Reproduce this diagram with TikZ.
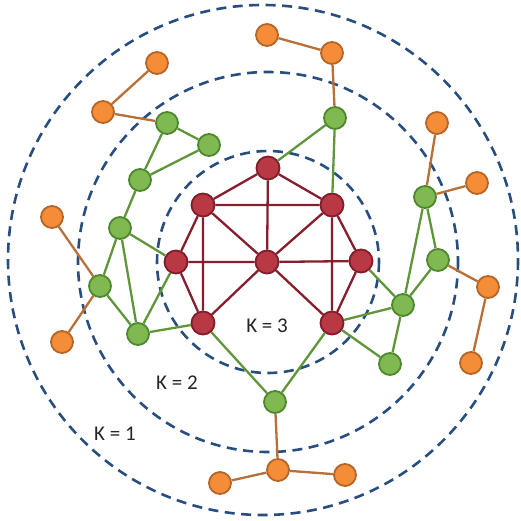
\documentclass[tikz,border=0pt]{standalone}
\usepackage{fontspec}
\setmainfont{Carlito}
\definecolor{rfill}{RGB}{184,56,68}
\definecolor{rdraw}{RGB}{130,28,42}
\definecolor{redge}{RGB}{135,30,45}
\definecolor{gfill}{RGB}{128,184,82}
\definecolor{gdraw}{RGB}{78,136,46}
\definecolor{gedge}{RGB}{96,150,58}
\definecolor{ofill}{RGB}{244,140,56}
\definecolor{odraw}{RGB}{180,102,40}
\definecolor{oedge}{RGB}{184,112,56}
\definecolor{ring}{RGB}{40,78,128}
\tikzset{
  rn/.style={circle,draw=rdraw,fill=rfill,line width=1.8pt,minimum size=23pt,inner sep=0pt},
  gn/.style={circle,draw=gdraw,fill=gfill,line width=1.8pt,minimum size=22pt,inner sep=0pt},
  on/.style={circle,draw=odraw,fill=ofill,line width=1.8pt,minimum size=22pt,inner sep=0pt},
  re/.style={draw=redge,line width=2.3pt},
  ge/.style={draw=gedge,line width=2.3pt},
  oe/.style={draw=oedge,line width=2.3pt},
  ringstyle/.style={draw=ring,line width=2.6pt,dash pattern=on 10pt off 6.5pt},
  lbl/.style={font=\fontsize{21}{23}\selectfont,text=black!85}
}
\begin{document}
\begin{tikzpicture}[x=1pt,y=-1pt]
\useasboundingbox (0,0) rectangle (520,521);
\fill[white] (0,0) rectangle (520,521);
% rings
\draw[ringstyle] (263,260) circle[radius=255];
\draw[ringstyle] (268,262) circle[radius=190];
\draw[ringstyle] (268,262) circle[radius=111];
% labels
\node[lbl] (k3) at (267,326) {K = 3};
\node[lbl] (k2) at (177,383) {K = 2};
\node[lbl] (k1) at (115,434) {K = 1};
% red nodes
\node[rn] (r1) at (268,168) {};
\node[rn] (r2) at (203,205) {};
\node[rn] (r3) at (332,205) {};
\node[rn] (r4) at (176,262) {};
\node[rn] (r5) at (267,262) {};
\node[rn] (r6) at (361,261) {};
\node[rn] (r7) at (203,323) {};
\node[rn] (r8) at (332,323) {};
% green nodes
\node[gn] (g1) at (167,123) {};
\node[gn] (g2) at (209,145) {};
\node[gn] (g3) at (140,180) {};
\node[gn] (g4) at (120,228) {};
\node[gn] (g5) at (100,286) {};
\node[gn] (g6) at (138,334) {};
\node[gn] (g7) at (335,118) {};
\node[gn] (g8) at (425,197) {};
\node[gn] (g9) at (438,260) {};
\node[gn] (g10) at (403,305) {};
\node[gn] (g11) at (390,364) {};
\node[gn] (g12) at (275,402) {};
% orange nodes
\node[on] (o1) at (157,63) {};
\node[on] (o2) at (103,112) {};
\node[on] (o3) at (52,217) {};
\node[on] (o4) at (62,342) {};
\node[on] (o5) at (267,35) {};
\node[on] (o6) at (332,53) {};
\node[on] (o7) at (437,123) {};
\node[on] (o8) at (477,183) {};
\node[on] (o9) at (488,287) {};
\node[on] (o11) at (471,363) {};
\node[on] (o12) at (278,470) {};
\node[on] (o13) at (345,475) {};
\node[on] (o14) at (220,483) {};
% red edges
\path[re] (r1)--(r2) (r1)--(r3) (r1)--(r5) (r2)--(r3) (r2)--(r4) (r2)--(r5) (r2)--(r7)
  (r3)--(r5) (r3)--(r6) (r3)--(r8) (r4)--(r5) (r5)--(r6) (r4)--(r7) (r7)--(r5)
  (r5)--(r8) (r6)--(r8);
% green edges
\path[ge] (g1)--(g2) (g1)--(g3) (g2)--(g3) (g3)--(g4) (g4)--(g5) (g4)--(g6) (g4)--(r4)
  (g5)--(g6) (g6)--(r7) (g6)--(r4) (g7)--(r1) (g7)--(r3) (g8)--(g9) (g8)--(g10)
  (g9)--(g10) (g10)--(r6) (g10)--(r8) (g10)--(g11) (r8)--(g11) (r8)--(g12) (r7)--(g12);
% orange edges
\path[oe] (o1)--(o2) (o2)--(g1) (o3)--(g5) (o4)--(g5) (o5)--(o6) (o6)--(g7) (o7)--(g8)
  (o8)--(g8) (o9)--(g9) (o9)--(o11) (g12)--(o12) (o12)--(o13) (o12)--(o14);
\end{tikzpicture}
\end{document}
